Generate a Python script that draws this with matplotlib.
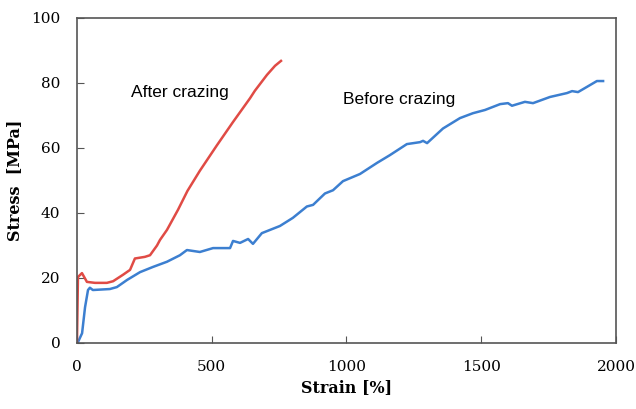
import matplotlib
matplotlib.use('Agg')
import matplotlib.pyplot as plt

# Before crazing (blue)
before_strain = [0, 4, 19, 30, 41, 48, 59, 122, 148, 186, 234, 282, 334, 382, 408,
                 456, 505, 568, 579, 605, 635, 653, 686, 753, 801, 853, 876, 920,
                 950, 987, 1050, 1113, 1161, 1224, 1273, 1284, 1299, 1358, 1421,
                 1469, 1514, 1570, 1599, 1614, 1662, 1692, 1755, 1818, 1837, 1859,
                 1892, 1929, 1952]
before_stress = [0, 0.3, 3, 11, 16.3, 17, 16.3, 16.6, 17.2, 19.4, 21.8, 23.4, 25,
                 27, 28.6, 28, 29.2, 29.2, 31.4, 30.8, 32, 30.5, 33.8, 36, 38.5, 42,
                 42.5, 46, 47, 49.8, 52, 55.4, 57.8, 61.2, 61.8, 62.2, 61.5, 66,
                 69.2, 70.7, 71.7, 73.5, 73.8, 73, 74.2, 73.8, 75.7, 76.9, 77.5,
                 77.2, 78.8, 80.6, 80.6]

# After crazing (red)
after_strain = [0, 3.7, 18.6, 37, 67, 111, 134, 171, 197, 215, 252, 271, 297, 308,
                334, 375, 410, 456, 519, 579, 642, 660, 705, 735, 757]
after_stress = [0, 20.3, 21.5, 18.8, 18.5, 18.5, 19, 21, 22.5, 26, 26.5, 27, 30,
                31.7, 34.8, 41, 46.8, 53, 60.8, 68, 75.3, 77.6, 82.5, 85.3, 86.8]

fig = plt.figure(figsize=(6.36, 4.09), dpi=100)
ax = fig.add_axes([0.121, 0.1614, 0.8476, 0.7946])

ax.plot(before_strain, before_stress, color='#3c7fd0', lw=1.8)
ax.plot(after_strain, after_stress, color='#e04b45', lw=1.8)

ax.text(200, 77.2, 'After crazing', fontsize=12.5, family='Liberation Sans',
        va='center', ha='left')
ax.text(987, 74.8, 'Before crazing', fontsize=12.5, family='Liberation Sans',
        va='center', ha='left')

ax.set_xlim(0, 2000)
ax.set_ylim(0, 100)
ax.set_xticks([0, 500, 1000, 1500, 2000])
ax.set_yticks([0, 20, 40, 60, 80, 100])
ax.tick_params(direction='in', length=5, color='#555555', pad=12,
               labelsize=11)
for lab in ax.get_xticklabels() + ax.get_yticklabels():
    lab.set_family('DejaVu Serif')
for s in ax.spines.values():
    s.set_color('#555555')
    s.set_linewidth(1.2)

ax.set_xlabel('Strain [%]', family='DejaVu Serif', fontweight='bold',
              fontsize=11.5, labelpad=4)
ax.set_ylabel('Stress  [MPa]', family='DejaVu Serif', fontweight='bold',
              fontsize=11.5, labelpad=6)

fig.savefig('out.png', dpi=100)
